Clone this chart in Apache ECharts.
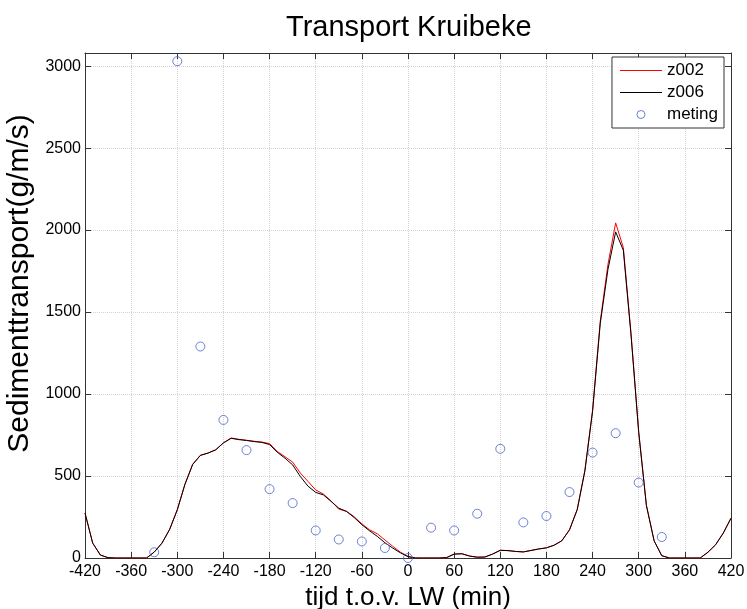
<!DOCTYPE html>
<html>
<head>
<meta charset="utf-8">
<script src="https://cdn.jsdelivr.net/npm/echarts@6/dist/echarts.min.js"></script>
<style>
  html, body { margin: 0; padding: 0; background: #fff; }
  #chart { width: 747px; height: 609px; }
</style>
</head>
<body>
<div id="chart"></div>
<script>
// model time axis (min relative to LW), every 10 min
const modelTime = [-420, -410, -400, -390, -380, -370, -360, -350, -340, -330,
  -320, -310, -300, -290, -280, -270, -260, -250, -240, -230,
  -220, -210, -200, -190, -180, -170, -160, -150, -140, -130,
  -120, -110, -100, -90, -80, -70, -60, -50, -40, -30,
  -20, -10, 0, 10, 20, 30, 40, 50, 60, 70,
  80, 90, 100, 110, 120, 130, 140, 150, 160, 170,
  180, 190, 200, 210, 220, 230, 240, 250, 260, 270,
  280, 290, 300, 310, 320, 330, 340, 350, 360, 370,
  380, 390, 400, 410, 420];

// run z006 (black)
const z006 = [274, 91, 18, 2, 0, 0, 0, 0, 0, 36,
  90, 174, 294, 450, 570, 626, 640, 660, 702, 730,
  722, 717, 710, 705, 692, 645, 609, 568, 497, 438,
  400, 385, 345, 304, 284, 247, 203, 166, 132, 93,
  61, 32, 8, 0, 0, 0, 0, 2, 24, 26,
  12, 5, 6, 24, 47, 45, 40, 37, 46, 55,
  62, 78, 105, 172, 294, 530, 895, 1430, 1760, 1989,
  1877, 1360, 765, 320, 105, 14, 0, 0, 0, 0,
  0, 35, 81, 152, 243];

// run z002 (red)
const z002 = [274, 91, 18, 2, 0, 0, 0, 0, 0, 36,
  90, 174, 294, 450, 572, 626, 640, 660, 702, 732,
  724, 718, 712, 707, 698, 650, 618, 585, 518, 467,
  415, 390, 348, 298, 285, 252, 208, 172, 148, 110,
  72, 36, 10, 0, 0, 0, 0, 2, 24, 26,
  12, 5, 6, 24, 47, 45, 40, 37, 46, 55,
  62, 78, 105, 172, 296, 535, 900, 1445, 1790, 2044,
  1893, 1370, 770, 322, 105, 14, 0, 0, 0, 0,
  0, 35, 81, 152, 243];

// measurements (meting), every 30 min
const metingTime = [-330, -300, -270, -240, -210, -180, -150, -120, -90, -60, -30,
  0, 30, 60, 90, 120, 150, 180, 210, 240, 270, 300, 330];
const meting = [35, 3030, 1290, 842, 658, 420, 335, 168, 113, 101, 61,
  0, 185, 168, 270, 666, 217, 256, 402, 643, 761, 460, 128];

const FONT = "'Liberation Sans', Arial, sans-serif";

function pairs(xs, ys) {
  return xs.map(function (x, i) { return [x, ys[i]]; });
}

const boxColor = '#333';
const gridLine = { show: true, lineStyle: { color: '#d2d2d2', type: 'dotted', width: 1 } };
// thin bar used as legend icon so the line entries show no marker
const lineIcon = 'path://M0,0 L42,0 L42,1 L0,1 Z';

const option = {
  animation: false,
  backgroundColor: '#fff',
  title: {
    text: 'Transport Kruibeke',
    left: 281,
    top: 8,
    textStyle: { fontFamily: FONT, fontSize: 29, fontWeight: 'normal', color: '#000' }
  },
  grid: { left: 85, right: 16, top: 53, bottom: 51, outerBoundsMode: 'none' },
  legend: {
    orient: 'vertical',
    right: 23,
    top: 57,
    padding: [5, 6, 5, 8],
    itemWidth: 42,
    itemHeight: 8,
    itemGap: 5,
    borderColor: '#333',
    borderWidth: 1,
    borderRadius: 0,
    backgroundColor: '#fff',
    itemStyle: { borderWidth: 1 },
    textStyle: { fontFamily: FONT, fontSize: 17, color: '#000' },
    data: [
      { name: 'z002', icon: lineIcon },
      { name: 'z006', icon: lineIcon },
      { name: 'meting', icon: 'circle' }
    ]
  },
  xAxis: [{
    type: 'value',
    min: -420,
    max: 420,
    interval: 60,
    name: 'tijd t.o.v. LW (min)',
    nameLocation: 'middle',
    nameGap: 26,
    nameTextStyle: { fontFamily: FONT, fontSize: 26, color: '#000' },
    axisLine: { onZero: false, lineStyle: { color: boxColor } },
    axisTick: { inside: true, length: 6, lineStyle: { color: boxColor } },
    axisLabel: { fontFamily: FONT, fontSize: 16, color: '#000', margin: 6 },
    splitLine: gridLine
  }, {
    type: 'value',
    position: 'top',
    min: -420,
    max: 420,
    interval: 60,
    axisLine: { onZero: false, lineStyle: { color: boxColor } },
    axisTick: { inside: true, length: 6, lineStyle: { color: boxColor } },
    axisLabel: { show: false },
    splitLine: { show: false }
  }],
  yAxis: [{
    type: 'value',
    min: 0,
    max: 3080,
    interval: 500,
    name: 'Sedimenttransport(g/m/s)',
    nameLocation: 'middle',
    nameGap: 46,
    nameTextStyle: { fontFamily: FONT, fontSize: 30, color: '#000', padding: [0, 0, 0, 44] },
    axisLine: { show: true, onZero: false, lineStyle: { color: boxColor } },
    axisTick: { show: true, inside: true, length: 6, lineStyle: { color: boxColor } },
    axisLabel: {
      fontFamily: FONT, fontSize: 16, color: '#000', margin: 4,
      formatter: function (v) { return v % 500 === 0 ? String(v) : ''; }
    },
    splitLine: gridLine
  }, {
    type: 'value',
    position: 'right',
    min: 0,
    max: 3080,
    interval: 500,
    axisLine: { show: true, onZero: false, lineStyle: { color: boxColor } },
    axisTick: { show: true, inside: true, length: 6, lineStyle: { color: boxColor } },
    axisLabel: { show: false },
    splitLine: { show: false }
  }],
  series: [
    {
      name: 'z002',
      type: 'line',
      xAxisIndex: 0,
      yAxisIndex: 0,
      symbol: 'none',
      data: pairs(modelTime, z002),
      lineStyle: { color: '#ff0000', width: 1 },
      itemStyle: { color: '#ff0000' },
      z: 2
    },
    {
      name: 'z006',
      type: 'line',
      xAxisIndex: 0,
      yAxisIndex: 0,
      symbol: 'none',
      data: pairs(modelTime, z006),
      lineStyle: { color: '#000000', width: 1 },
      itemStyle: { color: '#000000' },
      z: 3
    },
    {
      name: 'meting',
      type: 'scatter',
      xAxisIndex: 0,
      yAxisIndex: 0,
      symbol: 'circle',
      symbolSize: 9,
      data: pairs(metingTime, meting),
      itemStyle: { color: 'rgba(0,0,0,0)', borderColor: '#4a62cc', borderWidth: 1 },
      z: 4
    }
  ]
};

const chart = echarts.init(document.getElementById('chart'));
chart.setOption(option);
</script>
</body>
</html>
